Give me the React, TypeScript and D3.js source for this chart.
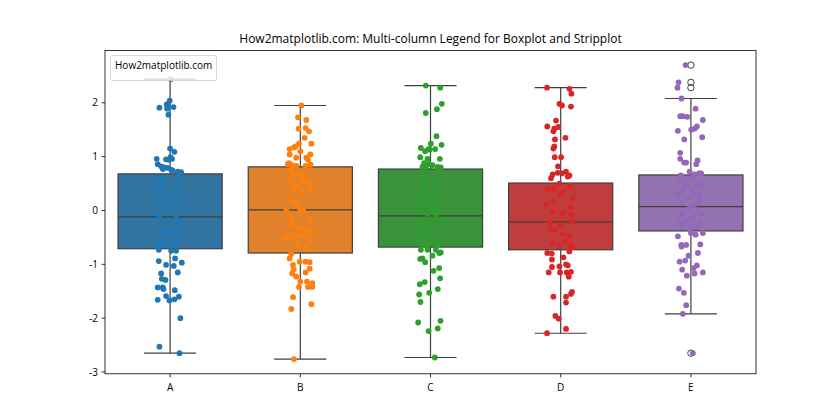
import React from "react";
import * as d3 from "d3";

const categories = ["A", "B", "C", "D", "E"];
const boxColors = ["#3274a1", "#e1812c", "#3a923a", "#c03d3e", "#9372b2"];
const pointColors = ["#1f77b4", "#ff7f0e", "#2ca02c", "#d62728", "#9467bd"];

const q1 = [-0.71, -0.79, -0.68, -0.73, -0.38];
const medians = [-0.12, 0.01, -0.1, -0.21, 0.07];
const q3 = [0.68, 0.81, 0.77, 0.51, 0.66];
const whiskerLow = [-2.65, -2.76, -2.73, -2.28, -1.92];
const whiskerHigh = [2.44, 1.95, 2.32, 2.28, 2.08];
const outliers: number[][] = [[], [], [], [], [2.7, 2.38, 2.28, -2.65]];

const yTicks = [-3, -2, -1, 0, 1, 2];
const title = "How2matplotlib.com: Multi-column Legend for Boxplot and Stripplot";
const legendLabel = "How2matplotlib.com";

// [jitter (category units), value]
const pointsA: [number, number][] = [
  [0.005, 2.44], [-0.003, 2.04], [-0.026, 1.97], [-0.018, 1.94], [0.026, 1.92], [-0.023, 1.89], [-0.082, 1.91], [-0.013, 1.78],
  [0.0, 1.15], [0.033, 1.09], [-0.103, 0.96], [0.003, 0.99], [-0.01, 0.94], [0.015, 0.96], [-0.031, 0.95], [-0.095, 0.86],
  [-0.069, 0.82], [-0.044, 0.8], [-0.018, 0.79], [0.008, 0.76], [0.021, 0.74], [0.059, 0.72], [0.085, 0.71], [-0.056, 0.77],
  [-0.056, 0.6], [0.072, 0.65], [-0.095, 0.51], [-0.044, 0.48], [0.033, 0.45], [0.059, 0.35], [-0.082, 0.39], [-0.018, 0.29],
  [-0.095, 0.23], [0.021, 0.2], [0.085, 0.11], [-0.069, 0.07], [-0.018, 0.17], [0.008, 0.01], [-0.108, -0.05], [0.046, -0.11],
  [-0.082, -0.14], [0.072, -0.2], [-0.005, -0.24], [0.085, -0.27], [-0.044, -0.36], [0.033, -0.39], [-0.018, -0.42], [0.059, -0.45],
  [-0.056, -0.48], [-0.082, -0.58], [-0.005, -0.61], [-0.031, -0.64], [-0.095, -0.67], [0.046, -0.58], [-0.062, -0.62],
  [-0.087, -0.73], [0.008, -0.75], [0.046, -0.75], [0.038, -0.89], [-0.087, -0.94], [0.09, -0.97], [-0.031, -1.01], [0.028, -1.03],
  [0.059, -1.15], [-0.069, -1.17], [-0.064, -1.27], [-0.036, -1.29], [0.036, -1.48], [-0.095, -1.43], [-0.056, -1.43], [-0.051, -1.46],
  [0.067, -1.6], [-0.031, -1.59], [-0.005, -1.67], [0.033, -1.65], [-0.095, -1.66], [0.079, -2.0], [-0.082, -2.53], [0.072, -2.65],
];
const pointsB: [number, number][] = [
  [0.008, 1.95], [-0.018, 1.73], [0.046, 1.68], [-0.013, 1.52], [0.041, 1.53], [0.067, 1.47], [0.033, 1.35], [0.085, 1.24],
  [-0.01, 1.24], [-0.036, 1.19], [-0.049, 1.17], [-0.082, 1.14], [0.0, 1.1], [-0.082, 1.04], [0.077, 1.04], [-0.031, 0.98],
  [0.046, 0.98], [0.059, 0.94], [-0.087, 0.88], [-0.095, 0.86], [-0.031, 0.83], [-0.062, 0.84], [0.041, 0.83], [0.079, 0.85],
  [-0.074, 0.76], [-0.056, 0.67], [-0.01, 0.67], [0.021, 0.66], [-0.082, 0.59], [0.026, 0.54], [-0.031, 0.48], [0.072, 0.51],
  [-0.044, 0.42], [0.077, 0.4], [-0.095, 0.34], [0.015, 0.34], [-0.056, 0.17], [-0.026, 0.12], [0.0, 0.01], [0.021, 0.01],
  [-0.108, 0.01], [-0.062, -0.14], [0.079, -0.2], [-0.082, -0.27], [-0.018, -0.33], [0.038, -0.33], [0.067, -0.39], [0.085, -0.36],
  [-0.056, -0.45], [-0.031, -0.48], [0.008, -0.45], [-0.108, -0.51], [0.072, -0.55], [-0.018, -0.64], [0.046, -0.7],
  [-0.069, -0.81], [-0.082, -0.89], [-0.005, -0.95], [0.041, -0.95], [0.072, -0.96], [-0.056, -1.01], [-0.051, -1.09], [0.072, -1.08],
  [0.041, -1.15], [-0.062, -1.17], [-0.031, -1.23], [0.0, -1.32], [0.051, -1.32], [0.092, -1.35], [0.092, -1.42], [0.059, -1.42],
  [-0.01, -1.42], [-0.056, -1.61], [-0.069, -1.83], [0.085, -1.74], [-0.049, -2.76],
];
const pointsC: [number, number][] = [
  [-0.036, 2.32], [0.074, 2.28], [0.087, 1.98], [0.049, 1.88], [-0.036, 1.81], [0.046, 1.38], [0.003, 1.24], [0.085, 1.22],
  [-0.074, 1.16], [-0.015, 1.14], [0.036, 1.14], [-0.041, 1.1], [-0.005, 1.13], [-0.079, 0.99], [0.072, 0.96], [-0.023, 0.96],
  [-0.049, 0.88], [-0.015, 0.86], [0.015, 0.84], [0.054, 0.81], [-0.062, 0.81], [0.079, 0.8], [-0.036, 0.8],
  [-0.041, 0.58], [0.028, 0.46], [-0.067, 0.46], [-0.01, 0.32], [-0.092, 0.23], [0.054, 0.21], [-0.036, 0.17], [-0.062, 0.04],
  [0.015, 0.05], [0.062, 0.04], [-0.087, -0.02], [-0.023, -0.06], [0.041, -0.08], [0.079, -0.17], [-0.074, -0.21], [-0.036, -0.24],
  [-0.1, -0.36], [-0.01, -0.42], [-0.049, -0.48], [0.028, -0.55], [0.067, -0.61], [0.054, -0.65], [-0.062, -0.64], [-0.023, -0.64],
  [-0.074, -0.73], [-0.023, -0.73], [0.041, -0.73], [0.079, -0.78], [0.067, -0.79], [0.015, -0.84], [-0.062, -0.89], [-0.079, -0.9],
  [-0.041, -0.96], [0.067, -1.07], [0.023, -1.12], [0.074, -1.26], [-0.044, -1.33], [-0.082, -1.37], [0.056, -1.46], [-0.01, -1.53],
  [-0.087, -1.56], [-0.077, -1.7], [-0.095, -2.08], [0.077, -2.05], [0.056, -2.19], [-0.015, -2.24], [0.033, -2.73],
];
const pointsD: [number, number][] = [
  [-0.105, 2.28], [0.067, 2.26], [0.082, 2.17], [-0.01, 1.98], [0.01, 1.95], [0.079, 1.93], [-0.036, 1.67], [-0.103, 1.56],
  [-0.018, 1.55], [-0.049, 1.52], [-0.056, 1.47], [0.036, 1.35], [-0.044, 1.32], [-0.049, 1.19], [-0.056, 1.15], [-0.046, 0.99],
  [0.003, 0.99], [-0.021, 0.82], [-0.062, 0.67], [-0.023, 0.7], [0.01, 0.69], [0.041, 0.72], [0.067, 0.65], [0.054, 0.63], [-0.074, 0.6],
  [-0.01, 0.5], [0.072, 0.45], [-0.049, 0.4], [-0.1, 0.39], [0.021, 0.35], [-0.005, 0.29], [0.092, 0.23], [-0.049, 0.17],
  [-0.113, 0.11], [0.074, 0.06], [0.015, -0.05], [-0.062, -0.04], [0.079, -0.08], [-0.087, -0.21], [0.087, -0.22], [-0.005, -0.27],
  [-0.049, -0.36], [-0.079, -0.34], [0.015, -0.44], [0.067, -0.48], [-0.062, -0.61], [0.036, -0.58], [-0.01, -0.66], [0.079, -0.65], [0.092, -0.68],
  [-0.103, -0.79], [-0.069, -0.8], [0.067, -0.76], [0.021, -0.87], [-0.067, -0.91], [0.041, -1.0], [-0.01, -1.04], [0.054, -1.02],
  [-0.067, -1.05], [-0.092, -1.15], [-0.005, -1.15], [0.046, -1.15], [0.062, -1.23], [0.079, -1.14], [0.087, -1.51], [0.079, -1.55],
  [-0.056, -1.6], [0.041, -1.6], [0.041, -1.71], [-0.041, -1.96], [-0.015, -2.01], [0.041, -2.2], [-0.105, -2.28],
];
const pointsE: [number, number][] = [
  [-0.041, 2.7], [-0.095, 2.38], [-0.103, 2.28], [0.015, -2.65], [-0.072, 2.08], [0.036, 1.89], [-0.082, 1.75], [-0.062, 1.75],
  [-0.028, 1.74], [0.092, 1.68], [0.046, 1.56], [-0.1, 1.48], [0.003, 1.5], [0.028, 1.52], [-0.051, 1.32], [0.087, 1.36],
  [-0.082, 1.07], [-0.082, 0.96], [0.051, 0.93], [-0.051, 0.89], [-0.036, 0.89], [0.041, 0.86], [-0.01, 0.72], [0.062, 0.69],
  [0.079, 0.69], [0.028, 0.67], [-0.077, 0.65],
  [-0.049, 0.57], [0.003, 0.6], [-0.087, 0.54], [0.041, 0.51], [-0.036, 0.48], [0.079, 0.48], [-0.062, 0.39], [0.015, 0.35],
  [-0.1, 0.29], [0.062, 0.29], [-0.023, 0.23], [0.072, 0.17], [-0.074, 0.14], [0.028, 0.11], [-0.01, 0.04], [0.054, -0.02],
  [-0.062, -0.05], [0.079, -0.07], [-0.087, -0.11], [0.015, -0.14], [-0.036, -0.2], [0.067, -0.24], [-0.074, -0.27], [-0.01, -0.33], [0.041, -0.31],
  [0.0, -0.42], [0.036, -0.45], [0.092, -0.42], [-0.1, -0.48], [0.072, -0.63], [-0.074, -0.64], [-0.036, -0.64], [-0.072, -0.67],
  [0.054, -0.79], [-0.018, -0.84], [-0.044, -0.93], [-0.087, -0.95], [0.046, -1.02], [0.021, -1.07], [-0.067, -1.1], [0.028, -1.17],
  [-0.031, -1.21], [0.092, -1.15], [-0.092, -1.45], [-0.054, -1.53], [-0.036, -1.76], [-0.062, -1.92],
];
const allPoints = [pointsA, pointsB, pointsC, pointsD, pointsE];

const W = 840;
const H = 420;
const M = { left: 105, right: 756, top: 50.4, bottom: 373.8 };
const FONT = "'Open Sans', 'Liberation Sans', Arial, sans-serif";
const LINE = "#3f3f3f";

export default function App() {
  const allValues = allPoints.flat().map((p) => p[1]).concat(whiskerLow, whiskerHigh, outliers.flat());
  const [vmin, vmax] = d3.extent(allValues) as [number, number];
  const pad = (vmax - vmin) * 0.05;
  const x = d3.scaleLinear().domain([-0.5, categories.length - 0.5]).range([M.left, M.right]);
  const y = d3.scaleLinear().domain([vmin - pad, vmax + pad]).range([M.bottom, M.top]);
  const boxW = 0.8;
  const capW = 0.4;

  return (
    <svg width={W} height={H} style={{ position: "absolute", left: 0, top: 0, background: "#fff" }} fontFamily={FONT}>
      <rect x={0} y={0} width={W} height={H} fill="#fff" />
      {categories.map((c, i) => (
        <g key={c}>
          <line x1={x(i)} x2={x(i)} y1={y(q3[i])} y2={y(whiskerHigh[i])} stroke={LINE} strokeWidth={1.2} />
          <line x1={x(i)} x2={x(i)} y1={y(q1[i])} y2={y(whiskerLow[i])} stroke={LINE} strokeWidth={1.2} />
          <line x1={x(i - capW / 2)} x2={x(i + capW / 2)} y1={y(whiskerHigh[i])} y2={y(whiskerHigh[i])} stroke={LINE} strokeWidth={1.2} />
          <line x1={x(i - capW / 2)} x2={x(i + capW / 2)} y1={y(whiskerLow[i])} y2={y(whiskerLow[i])} stroke={LINE} strokeWidth={1.2} />
          <rect
            x={x(i - boxW / 2)}
            y={y(q3[i])}
            width={x(i + boxW / 2) - x(i - boxW / 2)}
            height={y(q1[i]) - y(q3[i])}
            fill={boxColors[i]}
            stroke={LINE}
            strokeWidth={1.2}
          />
          <line x1={x(i - boxW / 2)} x2={x(i + boxW / 2)} y1={y(medians[i])} y2={y(medians[i])} stroke={LINE} strokeWidth={1.2} />
          {outliers[i].map((v, k) => (
            <circle key={k} cx={x(i)} cy={y(v)} r={3.2} fill="none" stroke={LINE} strokeWidth={1} />
          ))}
        </g>
      ))}
      {allPoints.map((pts, i) => (
        <g key={"p" + i}>
          {pts.map(([j, v], k) => (
            <circle key={k} cx={x(i + j)} cy={y(v)} r={2.9} fill={pointColors[i]} />
          ))}
        </g>
      ))}
      <rect x={M.left} y={M.top} width={M.right - M.left} height={M.bottom - M.top} fill="none" stroke="#000" strokeWidth={0.8} />
      {yTicks.map((t) => (
        <g key={t} transform={`translate(0,${y(t)})`}>
          <line x1={M.left - 3.5} x2={M.left} stroke="#000" strokeWidth={0.8} />
          <text x={M.left - 7} dy="0.35em" textAnchor="end" fontSize={10} fill="#000">
            {t < 0 ? "-" + Math.abs(t) : String(t)}
          </text>
        </g>
      ))}
      {categories.map((c, i) => (
        <g key={"x" + c} transform={`translate(${x(i)},0)`}>
          <line y1={M.bottom} y2={M.bottom + 3.5} stroke="#000" strokeWidth={0.8} />
          <text y={M.bottom + 17} textAnchor="middle" fontSize={10} fill="#000">
            {c}
          </text>
        </g>
      ))}
      <text x={(M.left + M.right) / 2} y={M.top - 7} textAnchor="middle" fontSize={12} fill="#000">
        {title}
      </text>
      <rect x={110.5} y={55.5} width={106} height={25} rx={2} fill="#fff" fillOpacity={0.8} stroke="#cccccc" strokeWidth={0.8} />
      <text x={115} y={69} fontSize={10} fill="#000">
        {legendLabel}
      </text>
    </svg>
  );
}
